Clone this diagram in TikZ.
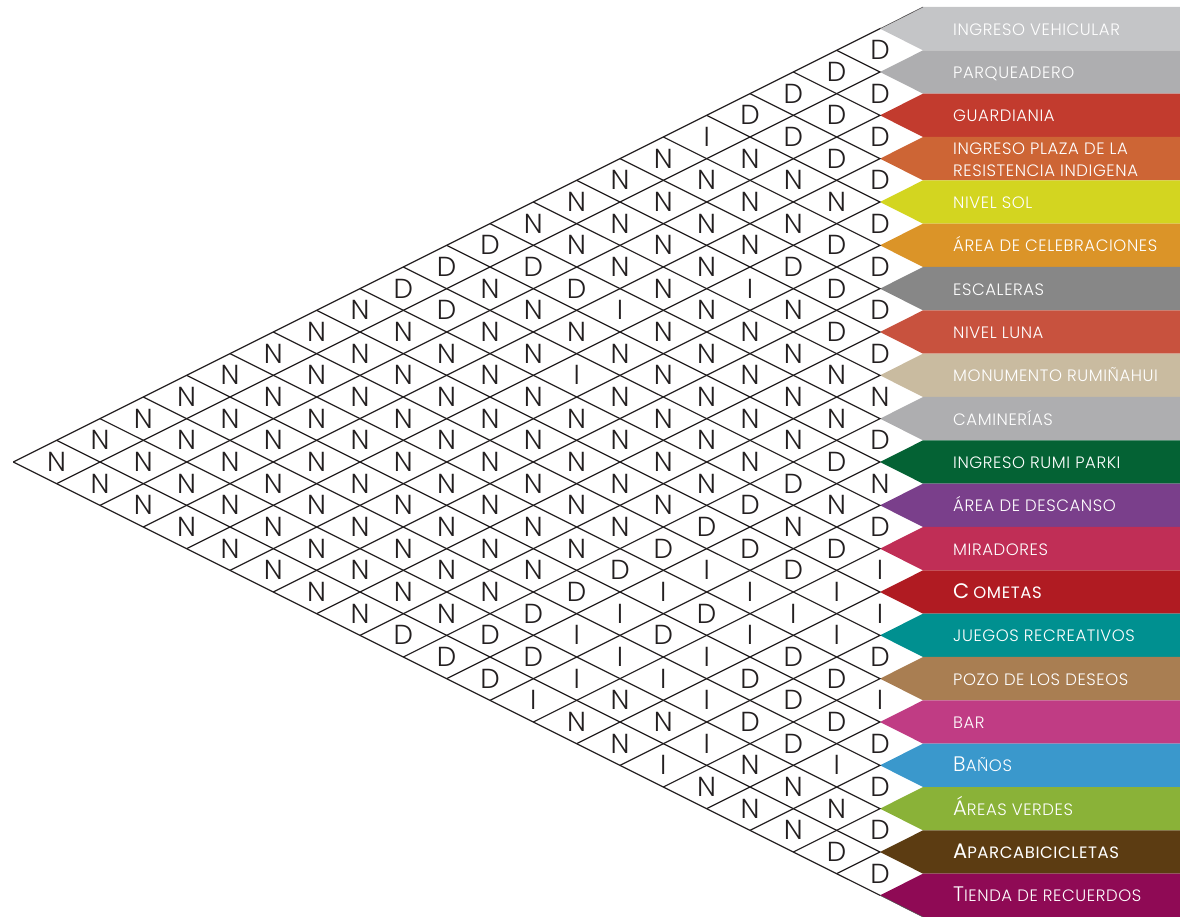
\documentclass[tikz,border=0pt]{standalone}
\usepackage{fontspec}
\IfFontExistsTF{Poppins Light}{\newfontfamily\thinf{Poppins Light}\newfontfamily\labf{Poppins Light}[LetterSpace=3.5]}{\newfontfamily\thinf{Poppins}\newfontfamily\labf{Poppins}[LetterSpace=3.5]}
\newfontfamily\regf{Poppins}[LetterSpace=3.5]
\definecolor{ink}{HTML}{231F20}
\definecolor{c1}{HTML}{C4C5C7}
\definecolor{c2}{HTML}{AEAEB0}
\definecolor{c3}{HTML}{C23B2E}
\definecolor{c4}{HTML}{CD6535}
\definecolor{c5}{HTML}{D3D520}
\definecolor{c6}{HTML}{DB9428}
\definecolor{c7}{HTML}{878787}
\definecolor{c8}{HTML}{C8523E}
\definecolor{c9}{HTML}{C9BBA0}
\definecolor{c10}{HTML}{AEAEB0}
\definecolor{c11}{HTML}{046234}
\definecolor{c12}{HTML}{7A3F8B}
\definecolor{c13}{HTML}{C02E56}
\definecolor{c14}{HTML}{B01B22}
\definecolor{c15}{HTML}{009090}
\definecolor{c16}{HTML}{A97E52}
\definecolor{c17}{HTML}{C03C84}
\definecolor{c18}{HTML}{3A98CC}
\definecolor{c19}{HTML}{8AB238}
\definecolor{c20}{HTML}{5C3C12}
\definecolor{c21}{HTML}{8F0A55}
\newcommand\Ini[1]{{\fontsize{21}{21}\selectfont #1}}
\begin{document}
\begin{tikzpicture}[x=1pt,y=-1pt,
  grid/.style={line width=1.2pt, draw=ink},
  cell/.style={text=ink, font=\thinf\fontsize{27.5}{27.5}\selectfont, inner sep=0pt},
  lab/.style={text=white, font=\labf\fontsize{16.5}{22}\selectfont, inner sep=0pt, anchor=base west}]
\useasboundingbox (0,0) rectangle (1180,917);
% label bands
\foreach \i in {1,...,21}{
  \pgfmathsetmacro\y{7+(\i-0.5)*43.333}
  \fill[c\i] (880,\y) -- (923,{\y-21.667}) -- (1180,{\y-21.667}) -- (1180,{\y+21.667}) -- (923,{\y+21.667}) -- cycle;
}
% grid lines
\foreach \i in {1,...,21}{
  \draw[grid] ({880-(\i-1)*43.333},{28.667+(\i-1)*21.667}) -- (880,{7+(\i-0.5)*43.333}) -- ({880-(21-\i)*43.333},{895.333-(21-\i)*21.667});
}
\draw[line width=0.6pt, draw=ink!80] (923,7) -- (880,28.667);
\draw[line width=0.6pt, draw=ink!80] (880,895.333) -- (923,917);
% cells
\foreach \i/\lst in {
 1/{D,D,D,D,I,N,N,N,N,D,D,D,N,N,N,N,N,N,N,N},
 2/{D,D,D,N,N,N,N,N,D,N,D,N,N,N,N,N,N,N,N},
 3/{D,D,N,N,N,N,N,D,N,N,N,N,N,N,N,N,N,N},
 4/{D,N,N,N,N,N,I,N,N,N,N,N,N,N,N,N,N},
 5/{D,D,D,I,N,N,N,I,N,N,N,N,N,N,N,N},
 6/{D,D,N,N,N,N,N,N,N,N,N,N,N,N,N},
 7/{D,D,N,N,N,N,N,N,N,N,N,N,N,N},
 8/{D,N,N,N,N,N,N,N,N,N,N,N,N},
 9/{N,N,N,N,N,N,N,N,N,N,N,D},
 10/{D,D,D,D,D,D,D,D,D,D,D},
 11/{N,N,N,D,I,I,I,I,D,D},
 12/{D,D,D,I,D,D,I,I,I},
 13/{I,I,I,I,I,I,N,N},
 14/{I,I,D,D,I,N,N},
 15/{D,D,D,D,I,I},
 16/{I,D,D,N,N},
 17/{D,I,N,N},
 18/{D,N,N},
 19/{D,D},
 20/{D}}{
  \foreach \c [count=\k] in \lst {
    \pgfmathtruncatemacro\j{\i+\k}
    \node[cell] (c-\i-\j) at ({880-(\k-1)*43.333},{7+(\i+\j-1)*21.667}) {\c};
  }
}
% label texts
\foreach \i/\txt in {
 1/{INGRESO VEHICULAR},
 2/{PARQUEADERO},
 3/{GUARDIANIA},
 5/{NIVEL SOL},
 6/{ÁREA DE CELEBRACIONES},
 7/{ESCALERAS},
 8/{NIVEL LUNA},
 9/{MONUMENTO RUMIÑAHUI},
 10/{CAMINERÍAS},
 11/{INGRESO RUMI PARKI},
 12/{ÁREA DE DESCANSO},
 13/{MIRADORES},
 14/{{\regf\Ini{C}\hspace{4pt}OMETAS}},
 15/{JUEGOS RECREATIVOS},
 16/{POZO DE LOS DESEOS},
 17/{BAR},
 18/{\Ini{B}AÑOS},
 19/{\Ini{Á}REAS VERDES},
 20/{{\regf\Ini{A}PARCABICICLETAS}},
 21/{\Ini{T}IENDA DE RECUERDOS}}{
  \node[lab] (l-\i) at (953,{7+(\i-0.5)*43.333+6.5}) {\txt};
}
\node[lab, anchor=west, align=left] (l-4) at (953,159.5) {INGRESO PLAZA DE LA\\RESISTENCIA INDIGENA};
\end{tikzpicture}
\end{document}
